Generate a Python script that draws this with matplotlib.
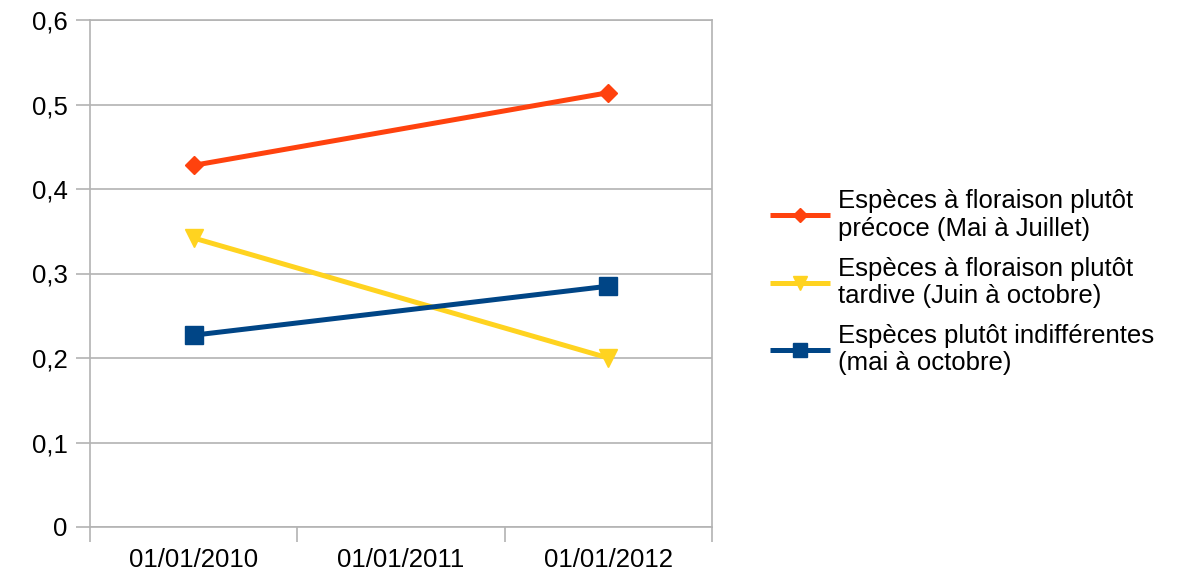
import numpy as np
import matplotlib.pyplot as plt
from matplotlib.ticker import FixedLocator, FuncFormatter

plt.rcParams['font.family'] = ['Liberation Sans', 'DejaVu Sans']

dates = ["01/01/2010", "01/01/2011", "01/01/2012"]
precoce = [0.428, np.nan, 0.514]
tardive = [0.342, np.nan, 0.200]
indiff = [0.227, np.nan, 0.285]

labels = [
    "Espèces à floraison plutôt\nprécoce (Mai à Juillet)",
    "Espèces à floraison plutôt\ntardive (Juin à octobre)",
    "Espèces plutôt indifférentes\n(mai à octobre)",
]
colors = ["#ff420e", "#ffd320", "#004586"]
markers = [("D", 9.5), ("v", 13.5), ("s", 13.5)]

grid_col = "#b3b3b3"
fs = 18.5

fig = plt.figure(figsize=(11.96, 5.77), dpi=100)
ax = fig.add_axes([90 / 1196, 1 - 527 / 577, (712 - 90) / 1196, (527 - 20) / 577])

x = np.arange(len(dates))
for vals, lab, col, (mk, ms) in zip([precoce, tardive, indiff], labels, colors, markers):
    v = np.array(vals, dtype=float)
    ok = ~np.isnan(v)
    # missing years are skipped, the line joins the known points
    ax.plot(x[ok], v[ok], color=col, lw=3.6, marker=mk, ms=ms,
            label=lab, solid_capstyle="butt")

ax.set_xlim(-0.5, len(dates) - 0.5)
ax.set_ylim(0, 0.6)

# category boundaries get the tick marks, names sit in between
ax.xaxis.set_major_locator(FixedLocator(np.arange(len(dates) + 1) - 0.5))
ax.xaxis.set_minor_locator(FixedLocator(x))
ax.set_xticklabels([], minor=False)
ax.set_xticklabels(dates, minor=True)
ax.tick_params(axis="x", which="major", length=11, color=grid_col, width=1.2)
ax.tick_params(axis="x", which="minor", length=0, pad=15, labelsize=fs)

ax.set_yticks(np.arange(0, 0.61, 0.1))
ax.yaxis.set_major_formatter(FuncFormatter(lambda v, p: f"{v:.1f}".replace(".", ",").replace("0,0", "0")))
ax.tick_params(axis="y", length=10, color=grid_col, width=1.2, labelsize=fs, pad=6)

ax.grid(axis="y", color=grid_col, lw=1.2)
ax.set_axisbelow(True)
for s in ax.spines.values():
    s.set_color(grid_col)
    s.set_linewidth(1.2)

leg = ax.legend(loc="center left", bbox_to_anchor=(1.093, 0.483), frameon=False,
                fontsize=fs, handlelength=2.33, handletextpad=0.32,
                labelspacing=0.62, markerscale=0.7, borderpad=0, borderaxespad=0)
for t in leg.get_texts():
    t.set_linespacing(1.17)

fig.savefig("out.png", dpi=100)
